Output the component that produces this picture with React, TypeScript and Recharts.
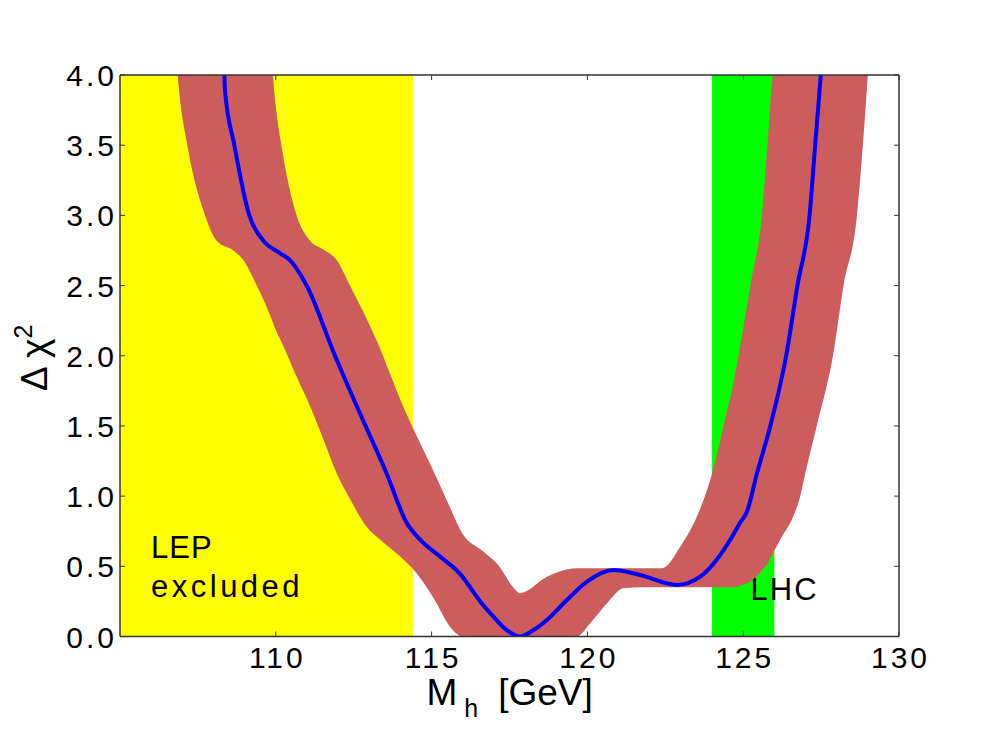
import { Area, ComposedChart, Line, ReferenceArea, XAxis, YAxis } from "recharts";

// red theory band: lower / upper edge of the shaded region at each mass
const bandMass = [
    106.85, 106.9, 107.16, 107.73, 108.1, 108.64, 108.96, 109.39, 109.9, 109.95, 110.24, 110.67, 111.1, 111.5,
    111.96, 112.38, 112.92, 113.35, 113.67, 113.99, 114.52, 115.1, 115.59, 116.0, 116.63, 117.17, 117.6, 117.84,
    118.7, 119.34, 119.66, 120.09, 120.63, 121.16, 121.8, 122.39, 122.98, 123.62, 124.0, 124.37, 124.7, 124.85,
    125.23, 125.6, 125.78, 125.97, 126.19, 126.67, 126.83, 126.99, 127.36, 127.88, 128.22, 128.65, 128.84, 129.0,
];
const bandLow = [
    4.0, 3.88, 3.5, 3.0, 2.82, 2.75, 2.68, 2.5, 2.24, 2.21, 2.07, 1.85, 1.64, 1.42,
    1.16, 0.98, 0.78, 0.69, 0.63, 0.57, 0.45, 0.26, 0.07, 0.0, 0.0, 0.0, 0.0, 0.0,
    0.0, 0.0, 0.0, 0.094, 0.236, 0.343, 0.35, 0.35, 0.35, 0.35, 0.35, 0.35, 0.35, 0.36,
    0.39, 0.47, 0.52, 0.6, 0.69, 0.89, 1.0, 1.16, 1.5, 2.0, 2.5, 3.0, 3.5, 4.0,
];
const bandHigh = [
    4.0, 4.0, 4.0, 4.0, 4.0, 4.0, 4.0, 4.0, 4.0, 3.88, 3.42, 3.0, 2.82, 2.76,
    2.68, 2.5, 2.26, 2.05, 1.87, 1.69, 1.43, 1.16, 0.92, 0.73, 0.61, 0.5, 0.355, 0.31,
    0.426, 0.478, 0.486, 0.486, 0.486, 0.486, 0.486, 0.486, 0.64, 0.91, 1.16, 1.5, 1.82, 2.0,
    2.5, 3.0, 3.5, 4.0, 4.0, 4.0, 4.0, 4.0, 4.0, 4.0, 4.0, 4.0, 4.0, 4.0,
];

// blue central curve
const curveMass = [
    108.35, 108.37, 108.67, 109.15, 109.6, 110.14, 110.46, 110.99, 111.9, 112.6, 113.56, 114.2, 114.63,
    115.27, 115.9, 116.56, 116.99, 117.41, 117.84, 118.27, 118.7, 119.34, 119.98, 120.84, 121.69, 122.87,
    123.62, 124.26, 124.58, 124.9, 125.12, 125.44, 125.87, 126.38, 126.74, 127.13, 127.31, 127.49,
];
const curveChi2 = [
    4.0, 3.89, 3.5, 3.0, 2.82, 2.73, 2.68, 2.5, 2.0, 1.64, 1.16, 0.81, 0.69,
    0.57, 0.45, 0.25, 0.14, 0.046, 0.0, 0.046, 0.118, 0.26, 0.39, 0.474, 0.438, 0.367,
    0.426, 0.58, 0.687, 0.81, 0.889, 1.16, 1.5, 2.0, 2.5, 3.0, 3.5, 4.0,
];

const lepExcluded = [105, 114.4];
const lhcRange = [124, 126];
const xTicks = [110, 115, 120, 125, 130];
const yTicks = [0, 0.5, 1, 1.5, 2, 2.5, 3, 3.5, 4];

const FONT = "'Liberation Sans', Arial, Helvetica, sans-serif";
const SPINE = "#333";

type Row = { m: number; band?: [number, number]; chi?: number };

const rows: Row[] = [
    ...bandMass.map((m, i) => ({ m, band: [bandLow[i], bandHigh[i]] as [number, number] })),
    ...curveMass.map((m, i) => ({ m, chi: curveChi2[i] })),
].sort((a, b) => a.m - b.m);

function BottomTick({ x, y, payload }: any) {
    return (
        <g>
            <line x1={x} x2={x} y1={y} y2={y - 5} stroke={SPINE} strokeWidth={1} />
            <text x={x + 1.5} y={y + 31} textAnchor="middle" fontSize={30} letterSpacing={3} fill="#000" fontFamily={FONT}>
                {payload.value}
            </text>
        </g>
    );
}

function TopTick({ x, y }: any) {
    return <line x1={x} x2={x} y1={y} y2={y + 5} stroke={SPINE} strokeWidth={1} />;
}

function LeftTick({ x, y, payload }: any) {
    return (
        <g>
            <line x1={x} x2={x + 5} y1={y} y2={y} stroke={SPINE} strokeWidth={1} />
            <text x={x - 3} y={y + 11} textAnchor="end" fontSize={30} letterSpacing={3} fill="#000" fontFamily={FONT}>
                {Number(payload.value).toFixed(1)}
            </text>
        </g>
    );
}

function RightTick({ x, y }: any) {
    return <line x1={x} x2={x - 5} y1={y} y2={y} stroke={SPINE} strokeWidth={1} />;
}

function XLabel({ viewBox }: any) {
    // starts a bit left of the plot centre, like the original
    const x0 = viewBox.x + viewBox.width / 2 - 83;
    return (
        <text x={x0} y={705} textAnchor="start" fontSize={37} fill="#000" fontFamily={FONT}>
            M
            <tspan dx={7} dy={12} fontSize={25}>h</tspan>
            <tspan dx={20} dy={-12}>[GeV]</tspan>
        </text>
    );
}

function YLabel({ viewBox }: any) {
    const x = 47;
    const y = viewBox.y + viewBox.height / 2 + 2;
    return (
        <text x={x} y={y} transform={`rotate(-90, ${x}, ${y})`} textAnchor="middle" fontSize={37} fill="#000" fontFamily={FONT}>
            {"Δ χ"}
            <tspan dy={-15} fontSize={25}>2</tspan>
        </text>
    );
}

function LepLabel({ viewBox }: any) {
    const x = viewBox.x + 31;
    const bottom = viewBox.y + viewBox.height;
    return (
        <g fontFamily={FONT} fontSize={31} fill="#000">
            <text x={x} y={bottom - 79} letterSpacing={1}>LEP</text>
            <text x={x} y={bottom - 40} letterSpacing={3.5}>excluded</text>
        </g>
    );
}

function LhcLabel({ viewBox }: any) {
    return (
        <text x={viewBox.x + 38.5} y={viewBox.y + viewBox.height - 37} fontFamily={FONT} fontSize={31} letterSpacing={2} fill="#000">
            LHC
        </text>
    );
}

export default function App() {
    return (
        <div style={{ position: "absolute", left: 0, top: 0, width: 1000, height: 750, background: "#fff" }}>
            <ComposedChart width={1000} height={750} data={rows} margin={{ top: 74, right: 100, bottom: 112.5, left: 119 }}>
                <XAxis
                    dataKey="m"
                    type="number"
                    domain={[105, 130]}
                    ticks={xTicks}
                    allowDataOverflow
                    height={1}
                    tickSize={0}
                    tickMargin={0}
                    tickLine={false}
                    tick={<BottomTick />}
                    axisLine={{ stroke: SPINE, strokeWidth: 1.5 }}
                    label={(p: any) => <XLabel {...p} />}
                />
                <XAxis
                    xAxisId="top"
                    orientation="top"
                    dataKey="m"
                    type="number"
                    domain={[105, 130]}
                    ticks={xTicks}
                    allowDataOverflow
                    height={1}
                    tickSize={0}
                    tickMargin={0}
                    tickLine={false}
                    tick={<TopTick />}
                    axisLine={{ stroke: SPINE, strokeWidth: 1.5 }}
                />
                <YAxis
                    type="number"
                    domain={[0, 4]}
                    ticks={yTicks}
                    allowDataOverflow
                    width={1}
                    tickSize={0}
                    tickMargin={0}
                    tickLine={false}
                    tick={<LeftTick />}
                    axisLine={{ stroke: SPINE, strokeWidth: 1.5 }}
                    label={(p: any) => <YLabel {...p} />}
                />
                <YAxis
                    yAxisId="right"
                    orientation="right"
                    type="number"
                    domain={[0, 4]}
                    ticks={yTicks}
                    allowDataOverflow
                    width={1}
                    tickSize={0}
                    tickMargin={0}
                    tickLine={false}
                    tick={<RightTick />}
                    axisLine={{ stroke: SPINE, strokeWidth: 1.5 }}
                />
                <ReferenceArea
                    x1={lepExcluded[0]}
                    x2={lepExcluded[1]}
                    y1={0}
                    y2={4}
                    fill="#ffff00"
                    fillOpacity={1}
                    stroke="none"
                    label={(p: any) => <LepLabel {...p} />}
                />
                <ReferenceArea
                    x1={lhcRange[0]}
                    x2={lhcRange[1]}
                    y1={0}
                    y2={4}
                    fill="#00ff00"
                    fillOpacity={1}
                    stroke="none"
                    label={(p: any) => <LhcLabel {...p} />}
                />
                <Area
                    dataKey="band"
                    type="monotone"
                    fill="#cd5c5c"
                    fillOpacity={1}
                    stroke="none"
                    connectNulls
                    dot={false}
                    activeDot={false}
                    isAnimationActive={false}
                />
                <Line
                    dataKey="chi"
                    type="monotone"
                    stroke="#0000ff"
                    strokeWidth={4}
                    connectNulls
                    dot={false}
                    activeDot={false}
                    isAnimationActive={false}
                />
            </ComposedChart>
        </div>
    );
}
